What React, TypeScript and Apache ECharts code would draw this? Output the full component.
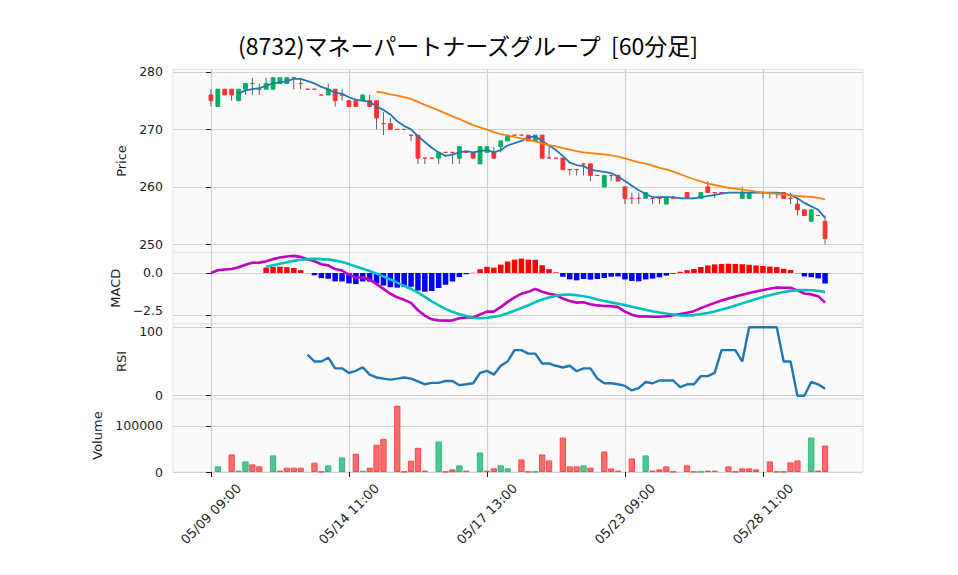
import React, { useEffect, useRef } from 'react';
import * as echarts from 'echarts';

const TITLE = '(8732)マネーパートナーズグループ  [60分足]';
const days = ['05/09', '05/10', '05/13', '05/14', '05/15', '05/16', '05/17', '05/20', '05/21', '05/22', '05/23', '05/24', '05/27', '05/28', '05/29'];
const hours = ['09:00', '10:00', '11:00', '12:00', '13:00', '14:00'];

const opens = [
  276, 274, 277, 277, 275, 277, 278, 277, 277, 277,
  278, 278, 279, 278, 277, 277, 276, 276, 277, 276,
  275, 275, 275, 275, 275, 271, 271, 270, 270, 269,
  269, 265, 265, 265, 266, 266, 265, 266, 266, 264,
  266, 266, 267, 268, 269, 269, 269, 268, 269, 265,
  265, 265, 263, 263, 264, 264, 262, 260, 262, 262,
  260, 258, 258, 258, 258, 258, 257, 258, 258, 259,
  258, 258, 260, 259, 259, 259, 259, 258, 258, 259,
  259, 259, 259, 259, 258, 257, 256, 254, 255, 254,
];
const highs = [
  277, 277, 277, 277, 277, 278, 279, 278, 279, 279,
  279, 279, 279, 279, 277, 277, 276, 278, 277, 277,
  275, 275, 276, 276, 275, 273, 272, 270, 270, 269,
  269, 265, 265, 266, 266, 266, 267, 266, 266, 267,
  267, 267, 268, 269, 269, 269, 269, 269, 269, 267,
  265, 265, 263, 263, 264, 264, 262, 262, 262, 262,
  260, 259, 259, 259, 258, 258, 258, 258, 258, 259,
  258, 259, 261, 259, 259, 259, 259, 260, 259, 259,
  259, 259, 259, 259, 259, 258, 256, 256, 255, 255,
];
const lows = [
  274, 274, 276, 275, 275, 276, 276, 276, 277, 277,
  278, 278, 277, 277, 277, 277, 276, 276, 274, 275,
  274, 274, 275, 274, 270, 269, 270, 270, 270, 268,
  264, 264, 265, 264, 266, 264, 264, 266, 265, 264,
  266, 265, 266, 268, 269, 269, 268, 268, 265, 265,
  265, 263, 262, 262, 262, 261, 262, 260, 261, 261,
  257, 257, 257, 258, 257, 257, 257, 258, 258, 258,
  258, 258, 259, 258, 259, 259, 259, 258, 258, 259,
  258, 258, 258, 258, 257, 255, 255, 254, 255, 250,
];
const closes = [
  275, 277, 276, 276, 277, 278, 278, 277, 278, 279,
  279, 279, 279, 278, 277, 277, 276, 277, 275, 276,
  274, 274, 276, 274, 272, 271, 270, 270, 270, 269,
  265, 265, 265, 266, 266, 266, 267, 266, 265, 267,
  267, 265, 268, 269, 269, 269, 268, 269, 265, 265,
  265, 263, 263, 263, 264, 262, 262, 262, 262, 261,
  258, 258, 258, 259, 258, 258, 258, 258, 258, 258,
  258, 259, 259, 259, 259, 259, 259, 259, 259, 259,
  259, 259, 259, 258, 258, 256, 255, 256, 255, 251,
];
const volumes = [
  0, 12200, 0, 38100, 2900, 23000, 16500, 12200, 0, 36000,
  2900, 9350, 9350, 9350, 0, 20100, 700, 14400, 0, 31600,
  0, 39600, 2900, 9350, 59000, 71900, 0, 143900, 700, 24500,
  52500, 2900, 0, 66200, 700, 5750, 14400, 2900, 0, 42400,
  2900, 7900, 14400, 7900, 0, 27300, 700, 700, 38100, 25200,
  0, 74800, 12200, 12200, 14400, 9350, 0, 44600, 7900, 2900,
  0, 29500, 0, 36000, 2900, 5750, 12200, 700, 0, 14400,
  700, 700, 2900, 2900, 0, 12200, 700, 7900, 7900, 5750,
  0, 23000, 700, 700, 20900, 25200, 0, 74800, 2900, 57500,
];

const xTicks = [0, 20, 40, 60, 80];
const priceTicks = [250, 260, 270, 280];
const macdTicks = [-2.5, 0];
const rsiTicks = [0, 100];
const volTicks = [0, 100000];

const UP = '#00b060';
const DOWN = '#fe3032';
const WICK = '#606060';
const VOL_UP = '#4dc790';
const VOL_DOWN = '#fd6b6c';
const GRID_LINE = '#d0d0d0';
const TEXT = '#222222';
const FONT = 'DejaVu Sans';
const FS = 12.5;

function sma(arr: number[], n: number): (number | null)[] {
  return arr.map((_, i) => {
    if (i < n - 1) return null;
    let s = 0;
    for (let k = i - n + 1; k <= i; k++) s += arr[k];
    return s / n;
  });
}
function ema(arr: number[], span: number): number[] {
  const a = 2 / (span + 1);
  const out: number[] = [];
  arr.forEach((v, i) => {
    out.push(i === 0 ? v : a * v + (1 - a) * out[i - 1]);
  });
  return out;
}

export default function App() {
  const ref = useRef<HTMLDivElement>(null);
  useEffect(() => {
    if (!ref.current) return;
    const chart = echarts.init(ref.current, undefined, { renderer: 'svg' });
    const labels = days.flatMap((d) => hours.map((h) => `${d} ${h}`));

    const ma5 = sma(closes, 5);
    const ma25 = sma(closes, 25);
    const e12 = ema(closes, 12);
    const e26 = ema(closes, 26);
    const macd = e12.map((v, i) => v - e26[i]);
    const signal = sma(macd, 9);
    const hist = macd.map((v, i) => (signal[i] == null ? null : v - (signal[i] as number)));
    const rsi = closes.map((_, i) => {
      if (i < 14) return null;
      let g = 0;
      let l = 0;
      for (let k = i - 13; k <= i; k++) {
        const d = closes[k] - closes[k - 1];
        if (d > 0) g += d;
        else l -= d;
      }
      return g + l === 0 ? 50 : (100 * g) / (g + l);
    });

    const pts = (arr: (number | null)[]) =>
      arr.map((v, i) => (v == null ? null : [i, v])).filter((p) => p != null) as number[][];

    const pMin = Math.min(...lows);
    const pMax = Math.max(...highs);
    const pPad = (pMax - pMin) * 0.05;
    const mVals: number[] = [...macd, ...(signal.filter((v) => v != null) as number[]), ...(hist.filter((v) => v != null) as number[]), 0];
    const mMin = Math.min(...mVals);
    const mMax = Math.max(...mVals);
    const mPad = (mMax - mMin) * 0.05;
    const vMax = Math.max(...volumes) * 1.1;

    const grids = [
      { top: 69.4, height: 183.2 },
      { top: 252.6, height: 71.3 },
      { top: 323.9, height: 75.2 },
      { top: 399.1, height: 72.9 },
    ].map((g) => ({
      left: 173,
      width: 690,
      top: g.top,
      height: g.height,
      show: true,
      backgroundColor: '#fafafa',
      borderColor: '#e2e2e2',
      borderWidth: 1,
    }));

    const xAxis = [0, 1, 2, 3].map((g) => ({
      type: 'value',
      gridIndex: g,
      min: -5.5,
      max: 94.5,
      minInterval: 20,
      maxInterval: 20,
      axisLine: { show: false },
      axisTick: { show: g === 3, customValues: xTicks, length: 5, lineStyle: { color: TEXT, width: 1 } },
      axisLabel: {
        show: g === 3,
        customValues: xTicks,
        formatter: (v: number) => labels[Math.round(v)] ?? '',
        rotate: 45,
        align: 'center',
        verticalAlign: 'middle',
        margin: 42,
        fontSize: 13,
        fontFamily: FONT,
        color: TEXT,
      },
      splitLine: { show: true, lineStyle: { color: GRID_LINE, width: 1.2 } },
    }));

    const richStyles = {
      lo: { fontSize: FS, fontFamily: FONT, color: TEXT, lineHeight: 22, verticalAlign: 'top' },
      hi: { fontSize: FS, fontFamily: FONT, color: TEXT, lineHeight: 22, verticalAlign: 'bottom' },
    };

    const yBase = (
      g: number,
      min: number,
      max: number,
      interval: number,
      ticks: number[],
      fmt: (v: number) => string,
      name: string,
      gap: number,
    ) => ({
      type: 'value',
      gridIndex: g,
      min,
      max,
      minInterval: interval,
      maxInterval: interval,
      axisLine: { show: false },
      axisTick: { show: true, customValues: ticks, length: 5, lineStyle: { color: TEXT, width: 1 } },
      axisLabel: {
        customValues: ticks,
        formatter: fmt,
        margin: 10,
        fontSize: FS,
        fontFamily: FONT,
        color: TEXT,
        rich: richStyles,
      },
      splitLine: { show: true, lineStyle: { color: GRID_LINE, width: 1.2 } },
      name,
      nameLocation: 'middle',
      nameRotate: 90,
      nameGap: gap,
      nameTextStyle: { fontSize: 13, fontFamily: FONT, color: TEXT },
    });

    const fmtMacd = (v: number) => {
      const s = v < 0 ? '\u2212' + Math.abs(v).toFixed(1) : v.toFixed(1);
      return v < 0 ? `{lo|${s}}` : s;
    };
    const fmtRsi = (v: number) => {
      const s = String(Math.round(v));
      return v >= 100 ? `{hi|${s}}` : s;
    };

    const yAxis = [
      yBase(0, pMin - pPad, pMax + pPad, 10, priceTicks, (v) => String(Math.round(v)), 'Price', 39),
      yBase(1, mMin - mPad, mMax + mPad, 2.5, macdTicks, fmtMacd, 'MACD', 42),
      yBase(2, -5, 105, 100, rsiTicks, fmtRsi, 'RSI', 41),
      yBase(3, 0, vMax, 100000, volTicks, (v) => String(Math.round(v)), 'Volume', 68),
    ];

    const candleData = closes.map((c, i) => [i, opens[i], c, lows[i], highs[i]]);

    const option = {
      animation: false,
      backgroundColor: '#ffffff',
      graphic: [
        {
          type: 'text',
          x: 468,
          y: 45,
          style: {
            text: TITLE,
            fill: '#000000',
            fontSize: 23,
            fontFamily: 'Noto Sans CJK JP',
            align: 'center',
            verticalAlign: 'middle',
          },
        },
      ],
      grid: grids,
      xAxis,
      yAxis,
      series: [
        {
          type: 'custom',
          name: 'candles',
          xAxisIndex: 0,
          yAxisIndex: 0,
          z: 2,
          encode: { x: 0, y: [1, 2, 3, 4] },
          data: candleData,
          renderItem: (_params: any, api: any) => {
            const i = api.value(0);
            const o = api.value(1);
            const c = api.value(2);
            const l = api.value(3);
            const h = api.value(4);
            const pO = api.coord([i, o]);
            const pC = api.coord([i, c]);
            const pL = api.coord([i, l]);
            const pH = api.coord([i, h]);
            const w = api.size([1, 0])[0] * 0.55;
            const color = c > o ? UP : DOWN;
            const top = Math.min(pO[1], pC[1]);
            const hh = Math.abs(pO[1] - pC[1]);
            return {
              type: 'group',
              children: [
                {
                  type: 'line',
                  shape: { x1: pH[0], y1: pH[1], x2: pL[0], y2: pL[1] },
                  style: { stroke: WICK, lineWidth: 1 },
                },
                {
                  type: 'rect',
                  shape: { x: pO[0] - w / 2, y: top, width: w, height: hh },
                  style: { fill: color, stroke: color, lineWidth: 1 },
                },
              ],
            };
          },
        },
        {
          type: 'line',
          name: 'MA5',
          xAxisIndex: 0,
          yAxisIndex: 0,
          z: 3,
          data: pts(ma5),
          showSymbol: false,
          lineStyle: { color: '#1f77b4', width: 1.8 },
        },
        {
          type: 'line',
          name: 'MA25',
          xAxisIndex: 0,
          yAxisIndex: 0,
          z: 3,
          data: pts(ma25),
          showSymbol: false,
          lineStyle: { color: '#ff7f0e', width: 1.8 },
        },
        {
          type: 'bar',
          name: 'hist',
          xAxisIndex: 1,
          yAxisIndex: 1,
          barWidth: 5.5,
          data: hist
            .map((v, i) => (v == null ? null : { value: [i, v], itemStyle: { color: v >= 0 ? '#ff0000' : '#0000ff' } }))
            .filter((d) => d != null),
        },
        {
          type: 'line',
          name: 'MACD',
          xAxisIndex: 1,
          yAxisIndex: 1,
          z: 3,
          data: pts(macd),
          showSymbol: false,
          lineStyle: { color: '#bf00bf', width: 2.6 },
        },
        {
          type: 'line',
          name: 'Signal',
          xAxisIndex: 1,
          yAxisIndex: 1,
          z: 3,
          data: pts(signal),
          showSymbol: false,
          lineStyle: { color: '#00bfbf', width: 2.6 },
        },
        {
          type: 'line',
          name: 'RSI',
          xAxisIndex: 2,
          yAxisIndex: 2,
          data: pts(rsi),
          showSymbol: false,
          lineStyle: { color: '#1f77b4', width: 2.4 },
        },
        {
          type: 'bar',
          name: 'Volume',
          xAxisIndex: 3,
          yAxisIndex: 3,
          barWidth: 6.3,
          data: volumes.map((v, i) => {
            const up = i === 0 ? closes[0] > opens[0] : closes[i] > closes[i - 1];
            return {
              value: [i, v],
              itemStyle: {
                color: up ? VOL_UP : VOL_DOWN,
                borderColor: up ? '#2fb87a' : '#f84a4c',
                borderWidth: v > 0 ? 1 : 0,
              },
            };
          }),
        },
      ],
    };
    chart.setOption(option as any);
    return () => chart.dispose();
  }, []);
  return <div ref={ref} style={{ position: 'fixed', left: 0, top: 0, width: 958, height: 575 }} />;
}
